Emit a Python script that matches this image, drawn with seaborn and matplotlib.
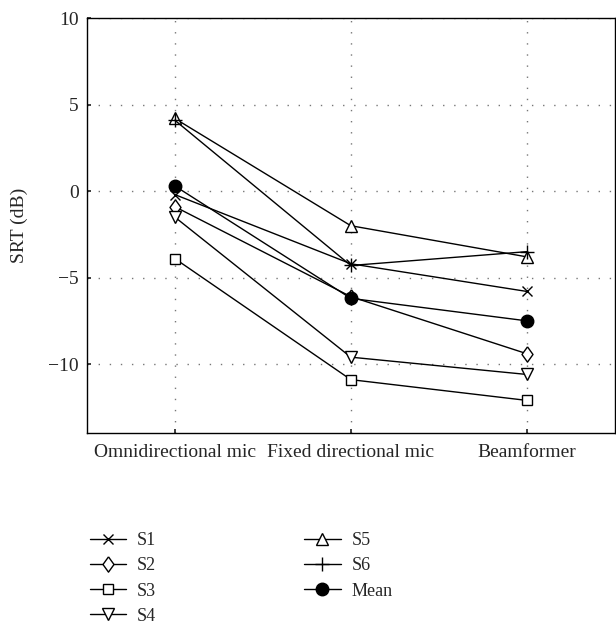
import numpy as np
import pandas as pd
import matplotlib
matplotlib.use('Agg')
import matplotlib.pyplot as plt
import seaborn as sns

conditions = ['Omnidirectional mic', 'Fixed directional mic', 'Beamformer']
s1 = [-0.2, -4.2, -5.8]
s2 = [-0.9, -6.1, -9.4]
s3 = [-3.9, -10.9, -12.1]
s4 = [-1.5, -9.6, -10.6]
s5 = [4.2, -2.0, -3.8]
s6 = [4.1, -4.3, -3.5]
mean = [0.3, -6.2, -7.5]

series = {'S1': s1, 'S2': s2, 'S3': s3, 'S4': s4, 'S5': s5, 'S6': s6, 'Mean': mean}
diamond = [(0, 1), (0.72, 0), (0, -1), (-0.72, 0), (0, 1)]
markers = {'S1': 'x', 'S2': diamond, 'S3': 's', 'S4': 'v', 'S5': '^', 'S6': '+', 'Mean': 'o'}
sizes = {'S1': 7, 'S2': 11, 'S3': 7, 'S4': 9, 'S5': 9, 'S6': 10, 'Mean': 9}

sns.set_theme(style='ticks')
plt.rcParams['font.family'] = ['Liberation Serif', 'DejaVu Serif']

fig = plt.figure(figsize=(6.16, 6.27), dpi=100)
ax = fig.add_axes([0.141, 0.309, 0.857, 0.662])

for name, vals in series.items():
    df = pd.DataFrame({'x': np.arange(len(conditions)), 'y': vals})
    face = 'black' if name == 'Mean' else 'white'
    sns.lineplot(data=df, x='x', y='y', ax=ax, color='black', linewidth=1.0,
                 marker=markers[name], markersize=sizes[name],
                 markerfacecolor=face, markeredgecolor='black',
                 markeredgewidth=1.0, label=name, legend=False)

ax.set_xlim(-0.5, 2.5)
ax.set_ylim(-14, 10)
ax.set_xticks(range(len(conditions)))
ax.set_xticklabels(conditions)
ax.set_yticks([-10, -5, 0, 5, 10])
ax.set_yticklabels(['\u221210', '\u22125', '0', '5', '10'])
ax.set_xlabel('')
ax.set_ylabel('SRT (dB)', fontsize=14, labelpad=14)
ax.tick_params(axis='x', labelsize=14, direction='in', length=3, pad=8)
ax.tick_params(axis='y', labelsize=14, direction='in', length=3, pad=6)
ax.grid(True, linestyle=(0, (1, 7)), color='#777777', linewidth=1.0)
for sp in ax.spines.values():
    sp.set_linewidth(1.0)
    sp.set_color('black')

handles, labels = ax.get_legend_handles_labels()
fig.legend(handles, labels, ncol=2, loc='upper left', bbox_to_anchor=(0.12, 0.177),
           frameon=False, fontsize=13, handlelength=2.0, columnspacing=8.2,
           labelspacing=0.45, markerscale=1.0, handletextpad=0.6)

fig.savefig('out.png', dpi=100)
